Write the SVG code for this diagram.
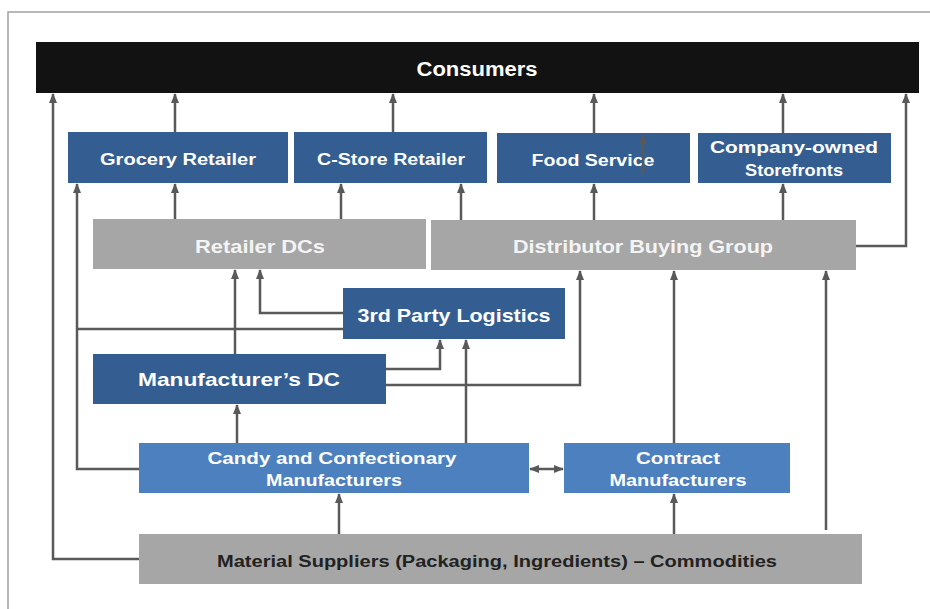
<svg xmlns="http://www.w3.org/2000/svg" width="930" height="609" viewBox="0 0 930 609">
<style>
.dk{fill:#345e92}
.lt{fill:#4d80bf}
.gr{fill:#a6a6a6}
.t{font-family:"Liberation Sans",Arial,sans-serif;font-weight:bold;text-anchor:middle;fill:#ffffff}
.tg{fill:#f4f4f4}
.td{fill:#222222}
.c{fill:none;stroke:#595959;stroke-width:2.5}
</style>
<defs>
<marker id="ah" markerUnits="userSpaceOnUse" markerWidth="10" markerHeight="10" viewBox="0 0 10 10" refX="9" refY="5" orient="auto-start-reverse">
<path d="M0,1 L10,5 L0,9 Z" fill="#595959"/>
</marker>
</defs>
<rect x="0" y="0" width="930" height="609" fill="#ffffff"/>
<rect x="8" y="12" width="930" height="610" fill="none" stroke="#a0a0a0" stroke-width="1.5"/>

<g id="consumers">
<rect x="36" y="42" width="883" height="51" fill="#121212"/>
<text class="t" x="477" y="76" font-size="20" textLength="121" lengthAdjust="spacingAndGlyphs">Consumers</text>
</g>
<g id="grocery-retailer">
<rect class="dk" x="68" y="132" width="220" height="51"/>
<text class="t" x="178" y="165" font-size="16" textLength="156" lengthAdjust="spacingAndGlyphs">Grocery Retailer</text>
</g>
<g id="cstore-retailer">
<rect class="dk" x="294" y="132" width="193" height="51"/>
<text class="t" x="391" y="165" font-size="16" textLength="148" lengthAdjust="spacingAndGlyphs">C-Store Retailer</text>
</g>
<g id="food-service">
<rect class="dk" x="497" y="133" width="193" height="50"/>
<text class="t" x="593" y="166" font-size="16" textLength="123" lengthAdjust="spacingAndGlyphs">Food Service</text>
</g>
<g id="company-owned-storefronts">
<rect class="dk" x="698" y="133" width="193" height="50"/>
<text class="t" x="794" y="153" font-size="16" textLength="168" lengthAdjust="spacingAndGlyphs">Company-owned</text>
<text class="t" x="794" y="176" font-size="16" textLength="98" lengthAdjust="spacingAndGlyphs">Storefronts</text>
</g>
<g id="retailer-dcs">
<rect class="gr" x="93" y="219" width="333" height="50"/>
<text class="t tg" x="260" y="253" font-size="19" textLength="130" lengthAdjust="spacingAndGlyphs">Retailer DCs</text>
</g>
<g id="distributor-buying-group">
<rect class="gr" x="431" y="220" width="425" height="50"/>
<text class="t tg" x="643" y="253" font-size="19" textLength="260" lengthAdjust="spacingAndGlyphs">Distributor Buying Group</text>
</g>
<g id="third-party-logistics">
<rect class="dk" x="343" y="288" width="222" height="51"/>
<text class="t" x="454" y="322" font-size="19" textLength="193" lengthAdjust="spacingAndGlyphs">3rd Party Logistics</text>
</g>
<g id="manufacturers-dc">
<rect class="dk" x="93" y="354" width="293" height="50"/>
<text class="t" x="239" y="386" font-size="19" textLength="202" lengthAdjust="spacingAndGlyphs">Manufacturer’s DC</text>
</g>
<g id="candy-manufacturers">
<rect class="lt" x="139" y="443" width="390" height="50"/>
<text class="t" x="332" y="464" font-size="16" textLength="249" lengthAdjust="spacingAndGlyphs">Candy and Confectionary</text>
<text class="t" x="334" y="486" font-size="16" textLength="136" lengthAdjust="spacingAndGlyphs">Manufacturers</text>
</g>
<g id="contract-manufacturers">
<rect class="lt" x="564" y="443" width="226" height="50"/>
<text class="t" x="678" y="464" font-size="16" textLength="84" lengthAdjust="spacingAndGlyphs">Contract</text>
<text class="t" x="678" y="486" font-size="16" textLength="137" lengthAdjust="spacingAndGlyphs">Manufacturers</text>
</g>
<g id="material-suppliers">
<rect class="gr" x="139" y="534" width="723" height="50"/>
<text class="t td" x="497" y="567" font-size="16" textLength="560" lengthAdjust="spacingAndGlyphs">Material Suppliers (Packaging, Ingredients) – Commodities</text>
</g>

<g id="connectors">
<path class="c" d="M139,559 H53 V94" marker-end="url(#ah)"/>
<path class="c" d="M139,469 H77 V184" marker-end="url(#ah)"/>
<path class="c" d="M343,329 H77"/>
<path class="c" d="M175,132 V94" marker-end="url(#ah)"/>
<path class="c" d="M393,132 V94" marker-end="url(#ah)"/>
<path class="c" d="M594,133 V94" marker-end="url(#ah)"/>
<path class="c" d="M783,133 V94" marker-end="url(#ah)"/>
<path class="c" d="M856,246 H906 V94" marker-end="url(#ah)"/>
<path class="c" d="M175,219 V184" marker-end="url(#ah)"/>
<path class="c" d="M341,219 V184" marker-end="url(#ah)"/>
<path class="c" d="M461,220 V184" marker-end="url(#ah)"/>
<path class="c" d="M594,220 V184" marker-end="url(#ah)"/>
<path class="c" d="M783,220 V184" marker-end="url(#ah)"/>
<path class="c" d="M235,354 V270" marker-end="url(#ah)"/>
<path class="c" d="M343,313 H260 V270" marker-end="url(#ah)"/>
<path class="c" d="M386,369 H440 V340" marker-end="url(#ah)"/>
<path class="c" d="M386,385 H580 V271" marker-end="url(#ah)"/>
<path class="c" d="M466,443 V340" marker-end="url(#ah)"/>
<path class="c" d="M237,443 V405" marker-end="url(#ah)"/>
<path class="c" d="M530,469 H563" marker-start="url(#ah)" marker-end="url(#ah)"/>
<path class="c" d="M674,443 V271" marker-end="url(#ah)"/>
<path class="c" d="M339,534 V494" marker-end="url(#ah)"/>
<path class="c" d="M674,534 V494" marker-end="url(#ah)"/>
<path class="c" d="M826,530 V271" marker-end="url(#ah)"/>
<path class="c" d="M643,174 V135" marker-end="url(#ah)"/>
</g>
</svg>
